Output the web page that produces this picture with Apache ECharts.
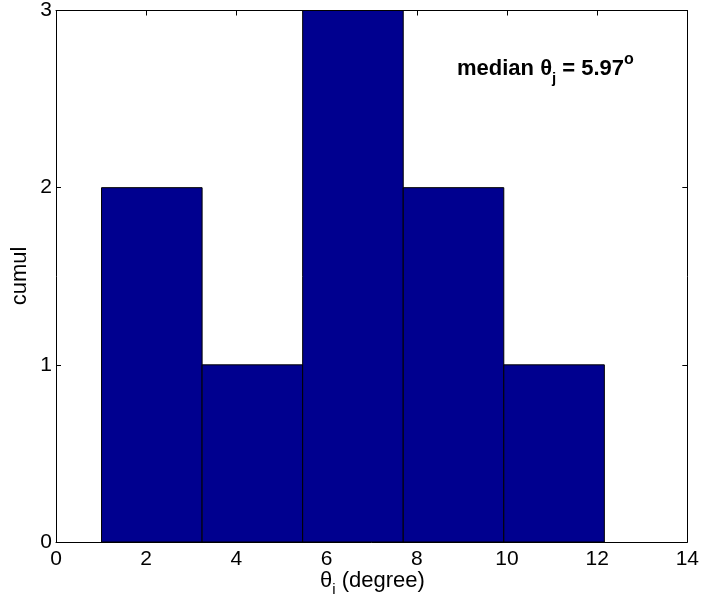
<!DOCTYPE html>
<html><head><meta charset="utf-8">
<script src="https://cdn.jsdelivr.net/npm/echarts@6/dist/echarts.min.js"></script>
<style>html,body{margin:0;padding:0;background:#fff}#c{width:702px;height:602px}</style>
</head><body><div id="c"></div>
<script>
// histogram bins (degree) and counts
const binEdges = [1.01, 3.24, 5.47, 7.70, 9.93, 12.16];
const counts = [2, 1, 3, 2, 1];
const xRange = [0, 14];
const yRange = [0, 3];
const xLabel = ['θ', 'i', ' (degree)'];
const yLabel = 'cumul';
const annotation = ['median θ', 'j', ' = 5.97', 'o'];

const FONT = '"Liberation Sans", Arial, Helvetica, sans-serif';
const data = counts.map((c, i) => [binEdges[i], binEdges[i + 1], c]);

const chart = echarts.init(document.getElementById('c'));
const axisCommon = {
  axisLine: { show: true, onZero: false, lineStyle: { color: '#000', width: 1 } },
  axisTick: { show: true, inside: true, length: 5, lineStyle: { color: '#000' } },
  splitLine: { show: false }
};
chart.setOption({
  animation: false,
  backgroundColor: '#fff',
  grid: { left: 56, right: 13, top: 10, bottom: 60, containLabel: false },
  xAxis: [
    Object.assign({ type: 'value', min: xRange[0], max: xRange[1], interval: 2, position: 'bottom',
      axisLabel: { color: '#000', fontSize: 21, fontFamily: FONT, margin: 7 } }, axisCommon),
    Object.assign({ type: 'value', min: xRange[0], max: xRange[1], interval: 2, position: 'top',
      axisLabel: { show: false } }, axisCommon)
  ],
  yAxis: [
    Object.assign({ type: 'value', min: yRange[0], max: yRange[1], interval: 1, position: 'left',
      axisLabel: { color: '#000', fontSize: 21, fontFamily: FONT, margin: 4 } }, axisCommon),
    Object.assign({ type: 'value', min: yRange[0], max: yRange[1], interval: 1, position: 'right',
      axisLabel: { show: false } }, axisCommon)
  ],
  series: [{
    type: 'custom',
    xAxisIndex: 0, yAxisIndex: 0,
    data: data,
    encode: { x: [0, 1], y: 2 },
    renderItem: function (params, api) {
      const p0 = api.coord([api.value(0), api.value(2)]);
      const p1 = api.coord([api.value(1), 0]);
      return {
        type: 'rect',
        shape: { x: p0[0], y: p0[1], width: p1[0] - p0[0], height: p1[1] - p0[1] },
        style: { fill: '#00008f', stroke: '#000', lineWidth: 1 }
      };
    },
    z: 1
  }],
  graphic: [
    {
      type: 'text', left: 320, top: 570, z: 10,
      style: {
        text: '{a|' + xLabel[0] + '}{s|' + xLabel[1] + '}{a|' + xLabel[2] + '}',
        fill: '#000',
        rich: {
          a: { fontSize: 22, fontFamily: FONT, lineHeight: 32, verticalAlign: 'middle' },
          s: { fontSize: 15, fontFamily: FONT, lineHeight: 32, verticalAlign: 'bottom' }
        }
      }
    },
    {
      type: 'text', x: 20, y: 276, rotation: Math.PI / 2, z: 10,
      style: { text: yLabel, font: '22px ' + FONT, fill: '#000', align: 'center', verticalAlign: 'middle' }
    },
    {
      type: 'text', left: 457, top: 52, z: 10,
      style: {
        text: '{a|' + annotation[0] + '}{s|' + annotation[1] + '}{a|' + annotation[2] + '}{p|' + annotation[3] + '}',
        fill: '#000',
        rich: {
          a: { fontSize: 22, fontWeight: 'bold', fontFamily: FONT, lineHeight: 34, verticalAlign: 'middle' },
          s: { fontSize: 15, fontWeight: 'bold', fontFamily: FONT, lineHeight: 34, verticalAlign: 'bottom' },
          p: { fontSize: 16, fontWeight: 'bold', fontFamily: FONT, lineHeight: 34, verticalAlign: 'top' }
        }
      }
    }
  ]
});
</script>
</body></html>
